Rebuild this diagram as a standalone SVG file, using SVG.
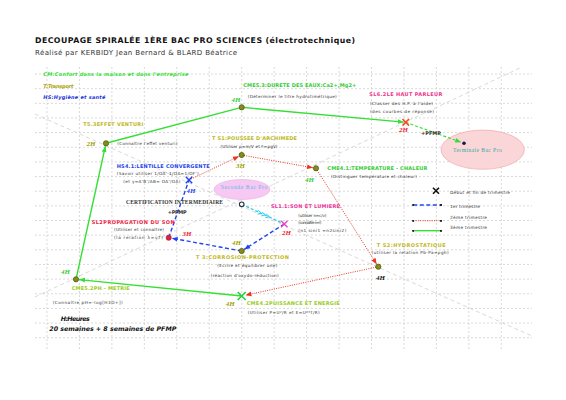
<svg xmlns="http://www.w3.org/2000/svg" width="566" height="400" viewBox="0 0 566 400">
<defs>
<style>
.grid{stroke:#c8c8c8;stroke-width:0.7;stroke-dasharray:2,2;fill:none}
.diag{stroke:#cfcfcf;stroke-width:0.8;stroke-dasharray:4,3;fill:none}
.g{stroke:#33e033;stroke-width:1.4;fill:none}
.gd{stroke:#33e033;stroke-width:1.1;stroke-dasharray:3,2;fill:none}
.r{stroke:#ee3322;stroke-width:1;stroke-dasharray:1,1.3;fill:none}
.b{stroke:#2244ee;stroke-width:1.4;stroke-dasharray:4,2.5;fill:none}
.c{stroke:#22ccee;stroke-width:1.2;stroke-dasharray:3,2;fill:none}
.node{fill:#8a8a1a;stroke:#4a6010;stroke-width:0.8}
.t{font-family:"DejaVu Sans",sans-serif;font-weight:bold;font-size:5px}
.d{font-family:"DejaVu Sans",sans-serif;font-size:4.2px;fill:#333}
.h{font-family:"Liberation Serif",serif;font-weight:bold;font-style:italic;font-size:7px}
.leg{font-family:"DejaVu Sans",sans-serif;font-weight:bold;font-style:italic;font-size:5px}
.lt{font-family:"DejaVu Sans",sans-serif;font-size:4.3px;fill:#333}
</style>
<marker id="ag" viewBox="0 0 10 10" refX="10" refY="5" markerWidth="6" markerHeight="6" markerUnits="userSpaceOnUse" orient="auto"><path d="M0,1 L10,5 L0,9 Z" fill="#33e033"/></marker>
<marker id="ar" viewBox="0 0 10 10" refX="10" refY="5" markerWidth="6" markerHeight="6" markerUnits="userSpaceOnUse" orient="auto"><path d="M0,1 L10,5 L0,9 Z" fill="#ee3322"/></marker>
<marker id="ab" viewBox="0 0 10 10" refX="10" refY="5" markerWidth="6" markerHeight="6" markerUnits="userSpaceOnUse" orient="auto"><path d="M0,1 L10,5 L0,9 Z" fill="#2244ee"/></marker>
<marker id="dot" viewBox="0 0 4 4" refX="2" refY="2" markerWidth="2.4" markerHeight="2.4" markerUnits="userSpaceOnUse"><circle cx="2" cy="2" r="2" fill="#222"/></marker>
</defs>
<rect width="566" height="400" fill="#fff"/>
<g id="grid">
<path class="grid" d="M35,74H532M35,88.65H532M35,103.3H532M35,117.95H532M35,132.6H532M35,147.25H532M35,161.9H532M35,176.55H532M35,191.2H532M35,205.85H532M35,220.5H532M35,235.15H532M35,249.8H532M35,264.45H532M35,279.1H532M35,293.75H532M35,308.4H532M35,323.05H532M35,337.7H532"/>
<path class="grid" d="M47,67V351M79.45,67V351M111.9,67V351M144.35,67V351M176.8,67V351M209.25,67V351M241.7,67V351M274.15,67V351M306.6,67V351M339.05,67V351M371.5,67V351M403.95,67V351M436.4,67V351M468.85,67V351M501.3,67V351"/>
<path class="diag" d="M35,114 L532,336"/>
<path class="diag" d="M35,297 L522,67"/>
</g>
<g id="header">
<text x="35" y="43.3" font-family="DejaVu Sans,sans-serif" font-weight="bold" font-size="7.8" fill="#111" textLength="320">DECOUPAGE SPIRALÉE 1ÈRE BAC PRO SCIENCES (électrotechnique)</text>
<text x="35" y="55" font-family="DejaVu Sans,sans-serif" font-size="7" fill="#333" textLength="202">Réalisé par KERBIDY Jean Bernard &amp; BLARD Béatrice</text>
<text class="leg" x="43.3" y="76" fill="#33e033" textLength="145">CM:Confort dans la maison et dans l'entreprise</text>
<text class="leg" x="43.3" y="88" fill="#aaa000" textLength="30">T:Transport</text>
<text class="leg" x="43.3" y="99.3" fill="#2233dd" textLength="62">HS:Hygiène et santé</text>
</g>
<g id="ellipses">
<ellipse cx="482.7" cy="149.7" rx="41.7" ry="19.6" fill="#fad6d8" stroke="#eeaaaa" stroke-width="0.7"/>
<ellipse cx="242" cy="189.5" rx="28" ry="10" fill="#f6c8f2" stroke="#eab4ea" stroke-width="0.7"/>
</g>
<g id="connectors">
<path class="g" d="M241.7,296 L79,279.6" marker-end="url(#ag)"/>
<path class="g" d="M76,279.3 L105.4,146.2" marker-end="url(#ag)"/>
<path class="g" d="M106,143.3 L238.8,108.1"/>
<path class="g" d="M241.7,107.3 L403.7,122.1" marker-end="url(#ag)"/>
<path class="gd" d="M405.7,122.3 L461.2,142.3" marker-end="url(#ag)"/>
<path class="r" d="M189,180 L239,156.3" marker-end="url(#ar)"/>
<path class="r" d="M241.7,155 L313,167.8" marker-end="url(#ar)"/>
<path class="r" d="M316,168.3 L376.7,264.2" marker-end="url(#ar)"/>
<path class="r" d="M378.3,266.7 L245.5,295.2" marker-end="url(#ar)"/>
<path class="b" d="M284.3,224 L244.2,249.4" marker-end="url(#ab)"/>
<path class="b" d="M241.7,251 L171.7,238.2" marker-end="url(#ab)"/>
<path class="b" d="M168.7,237.7 L189,180"/>
<path class="c" d="M241.7,204.3 L284.3,224"/>
<g stroke="#22ccee" stroke-width="1" fill="none">
<path d="M258.2,210.3 l2.9,2.6 l-3.6,1.3"/>
<path d="M262.2,212.1 l2.9,2.6 l-3.6,1.3"/>
<path d="M266.2,213.9 l2.9,2.6 l-3.6,1.3"/>
</g>
</g>
<g id="CME5.3">
<circle class="node" cx="241.7" cy="107.3" r="2.6"/>
<text class="h" x="231.5" y="101.6" fill="#33cc33">4H</text>
<text class="t" x="243.3" y="86.7" fill="#33cc33" textLength="113">CME5.3:DURETE DES EAUX:Ca2+,Mg2+</text>
<text class="d" x="247.7" y="98.2" textLength="89">(Déterminer le titre hydrotimétrique)</text>
</g>
<g id="SL6.2">
<path d="M402.5,119 L409,125.6 M409,119 L402.5,125.6" stroke="#ff4422" stroke-width="1.5"/>
<text class="h" x="399" y="132.3" fill="#ee2233">2H</text>
<text class="t" x="369.3" y="95.7" fill="#ee3388" textLength="73">SL6.2LE HAUT PARLEUR</text>
<text class="d" x="370" y="104.8" textLength="63">(Classer des H.P. à l'aide)</text>
<text class="d" x="370" y="112.5" textLength="64">(des courbes de réponse)</text>
<text class="t" x="421" y="135" fill="#333" textLength="20">+PFMP</text>
</g>
<g id="Terminale">
<circle cx="464" cy="143.3" r="1.8" fill="#1a1a4a"/>
<text x="453" y="152.4" font-family="Liberation Serif,serif" font-size="5.5" fill="#33a8a0" textLength="48.7">Terminale Bac Pro</text>
</g>
<g id="T5.3">
<circle class="node" cx="106" cy="143.3" r="2.6"/>
<text class="h" x="86.5" y="146.3" fill="#a0a000">2H</text>
<text class="t" x="83.3" y="126.4" fill="#c0b820" textLength="60">T5.3EFFET VENTURI</text>
<text class="d" x="117.3" y="145" textLength="60">(Connaître l'effet venturi)</text>
</g>
<g id="TS1">
<circle class="node" cx="241.7" cy="155" r="2.6"/>
<text class="h" x="236" y="168" fill="#a0a000">3H</text>
<text class="t" x="212" y="139.6" fill="#c0b820" textLength="85">T S1:POUSSEE D'ARCHIMEDE</text>
<text class="d" x="220.5" y="148.3" textLength="57">(Utiliser ρ=m/V et F=ρgV)</text>
</g>
<g id="CME4.1">
<circle class="node" cx="316" cy="168.3" r="2.6"/>
<text class="h" x="305" y="181.6" fill="#33cc33">4H</text>
<text class="t" x="327.3" y="170" fill="#33cc33" textLength="100">CME4.1:TEMPERATURE - CHALEUR</text>
<text class="d" x="331" y="177.5" textLength="86">(Distinguer température et chaleur)</text>
</g>
<g id="HS4.1">
<path d="M185.8,176.8 L192.2,183.2 M192.2,176.8 L185.8,183.2" stroke="#2244ee" stroke-width="1.5"/>
<text class="h" x="186.5" y="193" fill="#2244ee">4H</text>
<text class="t" x="116.7" y="167.7" fill="#2244ee" textLength="93">HS4.1:LENTILLE CONVERGENTE</text>
<text class="d" x="116.7" y="175" textLength="82">(Savoir utiliser 1/OA'-1/OA=1/OF')</text>
<text class="d" x="123.3" y="183.3" textLength="57">(et γ=A'B'/AB= OA'/OA)</text>
</g>
<g id="Seconde">
<text x="220.7" y="189.4" font-family="Liberation Serif,serif" font-size="5.5" fill="#55bbee" textLength="46.6">Seconde Bac Pro</text>
</g>
<g id="Certification">
<circle cx="241.7" cy="204.3" r="2.3" fill="#fff" stroke="#223344" stroke-width="1.1"/>
<text x="126" y="204.3" font-family="Liberation Serif,serif" font-weight="bold" font-size="5.5" fill="#333" textLength="97">CERTIFICATION INTERMEDIAIRE</text>
<text class="t" x="167.7" y="213.5" fill="#333" textLength="19">+PFMP</text>
</g>
<g id="SL2">
<circle cx="168.7" cy="237.7" r="2.6" fill="#dd2244" stroke="#992233" stroke-width="0.6"/>
<text class="h" x="182.5" y="236.3" fill="#ee2233">3H</text>
<text class="t" x="91.7" y="223.5" fill="#ee2244" textLength="83">SL2PROPAGATION DU SON</text>
<text class="d" x="114" y="231" textLength="50">(Utiliser et connaître)</text>
<text class="d" x="114" y="239.3" textLength="49">(la relation λ=vT)</text>
</g>
<g id="SL1.1">
<path d="M281.1,220.8 L287.5,227.2 M287.5,220.8 L281.1,227.2" stroke="#ee44cc" stroke-width="1.4"/>
<text class="h" x="282" y="235" fill="#ee2233">2H</text>
<text class="t" x="271" y="207.7" fill="#ee3399" textLength="69">SL1.1:SON ET LUMIERE</text>
<text class="d" x="298.3" y="216.5" textLength="28">(utiliser n=c/v)</text>
<text class="d" x="298.3" y="224.2" textLength="23">(connaître i=r)</text>
<text class="d" x="298.3" y="232.2" textLength="48">(n1 sini1 =n2sini2)</text>
</g>
<g id="T3">
<circle class="node" cx="241.7" cy="251" r="2.6"/>
<text class="h" x="232" y="245" fill="#a0a000">4H</text>
<text class="t" x="196" y="259" fill="#c0b820" textLength="93">T 3:CORROSION-PROTECTION</text>
<text class="d" x="217.3" y="266.5" textLength="60">(Ecrire et équilibrer une)</text>
<text class="d" x="210.7" y="276.5" textLength="68">(réaction d'oxydo-réduction)</text>
</g>
<g id="TS2">
<circle class="node" cx="378.3" cy="266.7" r="2.6"/>
<text class="h" x="376" y="279.6" fill="#111">4H</text>
<text class="t" x="376.7" y="246.7" fill="#c0b820" textLength="69">T S2:HYDROSTATIQUE</text>
<text class="d" x="371.7" y="254.2" textLength="77">(utiliser la relation Pb-Pa=ρgh)</text>
</g>
<g id="CME4.2">
<path d="M237.7,292 L245.7,300 M245.7,292 L237.7,300" stroke="#22cc44" stroke-width="1.6"/>
<text class="h" x="225.7" y="305.6" fill="#a0a000">4H</text>
<text class="t" x="246.7" y="305" fill="#99cc22" textLength="93">CME4.2PUISSANCE ET ENERGIE</text>
<text class="d" x="247.7" y="313.8" textLength="72">(Utiliser P=U²/R et E=U²*t/R)</text>
</g>
<g id="CME5.2">
<circle class="node" cx="76" cy="279.3" r="2.6"/>
<text class="h" x="61" y="274" fill="#33cc33">4H</text>
<text class="t" x="71.7" y="290" fill="#99cc22" textLength="58">CME5.2PH - METRIE</text>
<text class="d" x="52.7" y="304.2" textLength="70">(Connaître pH=-log[H3O+])</text>
</g>
<g id="notes">
<text x="60.7" y="320.5" font-family="DejaVu Sans,sans-serif" font-weight="bold" font-style="italic" font-size="6.3" fill="#111" textLength="29">H:Heures</text>
<text x="49.3" y="330.5" font-family="DejaVu Sans,sans-serif" font-weight="bold" font-style="italic" font-size="6.3" fill="#111" textLength="127">20 semaines + 8 semaines de PFMP</text>
</g>
<g id="legend">
<path d="M433,187.7 L439,193.7 M439,187.7 L433,193.7" stroke="#111" stroke-width="1.6"/>
<text class="lt" x="450" y="194" textLength="60">Début et fin de trimestre</text>
<path class="b" d="M413.3,205 H441" marker-start="url(#dot)" marker-end="url(#dot)" stroke-width="1.2"/>
<text class="lt" x="450" y="207.5" textLength="30">1er trimestre</text>
<path class="r" d="M413.3,220.7 H441" marker-start="url(#dot)" marker-end="url(#dot)"/>
<text class="lt" x="450" y="219.2" textLength="37">2ème trimestre</text>
<path class="g" d="M413.3,230.7 H441" marker-start="url(#dot)" marker-end="url(#dot)" stroke-width="1.2"/>
<text class="lt" x="450" y="229.2" textLength="37">3ème trimestre</text>
</g>
</svg>
